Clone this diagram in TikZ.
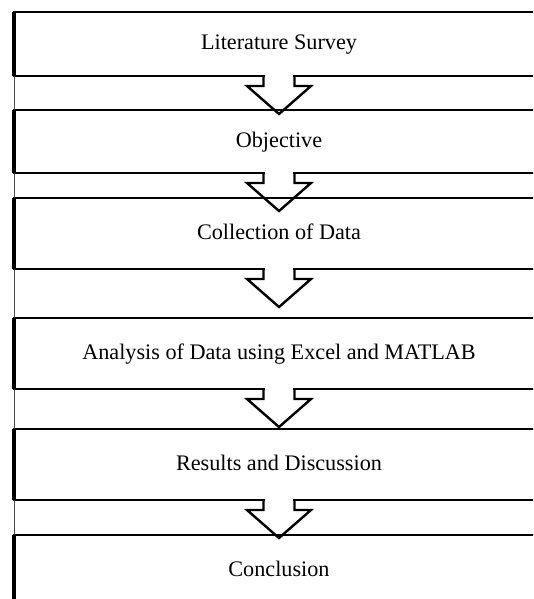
\documentclass[tikz,border=0pt]{standalone}
\usepackage{fontspec}
\setmainfont{Liberation Serif}
\usetikzlibrary{positioning, calc}

\tikzset{
    stage/.style={rectangle, draw, line width=2.7pt, minimum width=530pt, inner sep=0pt, outer sep=0pt,
        text height=11pt, text depth=0pt, font=\fontsize{22.2}{26}\selectfont},
    flow/.style={line width=2.4pt, line join=miter},
}

\begin{document}
\begin{tikzpicture}[x=1pt, y=-1pt]
    \useasboundingbox (0,0) rectangle (533,599);
    \clip (0,0) rectangle (533,599);

    % Nodes
    \node[stage, minimum height=64pt] (Survey) at (279, 44) {Literature Survey};
    \node[stage, minimum height=63pt] (Objective) at (279, 141.5) {Objective};
    \node[stage, minimum height=71pt] (Collection) at (279, 233.5) {Collection of Data};
    \node[stage, minimum height=71pt] (Analysis) at (279, 353.5) {Analysis of Data using Excel and MATLAB};
    \node[stage, minimum height=71pt] (Results) at (279, 464.5) {Results and Discussion};
    \node[stage, minimum height=71pt] (Conclusion) at (279, 570.5) {Conclusion};

    % thin rule down the left side, thick left edge on each box
    \draw[line width=0.9pt, black!70] (Survey.north west) -- (Conclusion.south west);
    \foreach \n in {Survey, Objective, Collection, Analysis, Results, Conclusion}
        \draw[line width=4.5pt] (\n.north west) -- (\n.south west);

    % Block arrows between the stages
    \foreach \a in {Survey, Objective, Collection, Analysis, Results} {
        \fill[white] ($(\a.south)+(-14.3,-2)$) rectangle ($(\a.south)+(14.3,2)$);
        \draw[flow] ($(\a.south)+(-15.5,0)$) -- ++(0,10) -- ++(-16.5,0) -- ($(\a.south)+(0,38)$)
            -- ($(\a.south)+(32,10)$) -- ++(-16.5,0) -- ++(0,-10);
    }
\end{tikzpicture}
\end{document}
